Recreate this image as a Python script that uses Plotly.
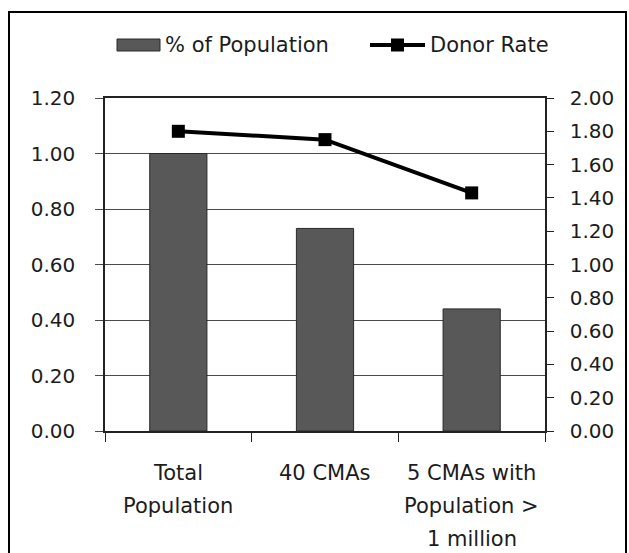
import plotly.graph_objects as go

# Data
categories = ["Total Population", "40 CMAs", "5 CMAs with Population > 1 million"]
category_lines = [["Total", "Population"], ["40 CMAs"], ["5 CMAs with", "Population >", "1 million"]]
pct_population = [1.00, 0.73, 0.44]
donor_rate = [1.80, 1.75, 1.43]
left_ticks = [0.0, 0.2, 0.4, 0.6, 0.8, 1.0, 1.2]
right_ticks = [0.0, 0.2, 0.4, 0.6, 0.8, 1.0, 1.2, 1.4, 1.6, 1.8, 2.0]
series_names = ["% of Population", "Donor Rate"]

W, H = 629, 553
L, R, T, B = 105, 84, 98, 122
PW, PH = W - L - R, H - T - B

FONT = "DejaVu Sans"
TXT = "#1c1c1c"
BAR = "#585858"


def px(x):
    return (x - L) / PW


def py(y):
    return (T + PH - y) / PH


fig = go.Figure()
fig.add_trace(go.Bar(
    x=categories, y=pct_population, name=series_names[0],
    marker=dict(color=BAR, line=dict(color="#2a2a2a", width=1)),
    width=0.39, yaxis="y", showlegend=False,
))
fig.add_trace(go.Scatter(
    x=categories, y=donor_rate, name=series_names[1], mode="lines+markers",
    line=dict(color="#000000", width=4),
    marker=dict(symbol="square", size=13, color="#000000"),
    yaxis="y2", showlegend=False,
))

annotations = []
for cat, lines in zip(categories, category_lines):
    for i, line in enumerate(lines):
        annotations.append(dict(
            x=cat, xref="x", y=0, yref="paper", text=line, showarrow=False,
            yanchor="middle", xanchor="center", yshift=-42 - 33 * i,
            font=dict(family=FONT, size=21, color=TXT),
        ))

# legend drawn as shapes + labels
leg_y = py(45)
annotations.append(dict(x=px(163), y=leg_y, xref="paper", yref="paper", text=series_names[0],
                        showarrow=False, xanchor="left", yanchor="middle",
                        font=dict(family=FONT, size=21, color=TXT)))
annotations.append(dict(x=px(428), y=leg_y, xref="paper", yref="paper", text=series_names[1],
                        showarrow=False, xanchor="left", yanchor="middle",
                        font=dict(family=FONT, size=21, color=TXT)))

shapes = [
    # outer frame
    dict(type="rect", xref="paper", yref="paper", x0=px(9), x1=px(626), y0=py(570), y1=py(12),
         line=dict(color="#000000", width=2), fillcolor="rgba(0,0,0,0)", layer="above"),
    # legend swatch for bars
    dict(type="rect", xref="paper", yref="paper", x0=px(117), x1=px(160), y0=py(51), y1=py(39),
         line=dict(color="#2a2a2a", width=1), fillcolor=BAR),
    # legend line + marker
    dict(type="line", xref="paper", yref="paper", x0=px(370), x1=px(425), y0=leg_y, y1=leg_y,
         line=dict(color="#000000", width=4)),
    dict(type="rect", xref="paper", yref="paper", x0=px(391), x1=px(404), y0=py(51.5), y1=py(38.5),
         line=dict(color="#000000", width=0), fillcolor="#000000"),
]

fig.update_layout(
    width=W, height=H,
    margin=dict(l=L, r=R, t=T, b=B),
    paper_bgcolor="white", plot_bgcolor="white",
    font=dict(family=FONT, size=20, color=TXT),
    xaxis=dict(
        type="category", showticklabels=False, showgrid=False,
        showline=True, mirror=True, linecolor="#222", linewidth=1.5,
        ticks="outside", tickson="boundaries", ticklen=9, tickcolor="#222",
    ),
    yaxis=dict(
        range=[0, 1.2], tickvals=left_ticks, ticktext=[f"{v:.2f}" for v in left_ticks],
        showgrid=True, gridcolor="#4a4a4a", gridwidth=1,
        showline=True, linecolor="#222", linewidth=1.5,
        ticks="outside", ticklen=8, tickcolor="#4a4a4a",
        ticklabelstandoff=16, zeroline=False,
        tickfont=dict(family=FONT, size=20, color=TXT),
    ),
    yaxis2=dict(
        range=[0, 2.0], tickvals=right_ticks, ticktext=[f"{v:.2f}" for v in right_ticks],
        overlaying="y", side="right", showgrid=False, zeroline=False,
        showline=True, linecolor="#222", linewidth=1.5,
        ticks="outside", ticklen=7, tickcolor="#222",
        ticklabelstandoff=12,
        tickfont=dict(family=FONT, size=20, color=TXT),
    ),
    annotations=annotations,
    shapes=shapes,
    showlegend=False,
)

fig.write_html("out.html")
